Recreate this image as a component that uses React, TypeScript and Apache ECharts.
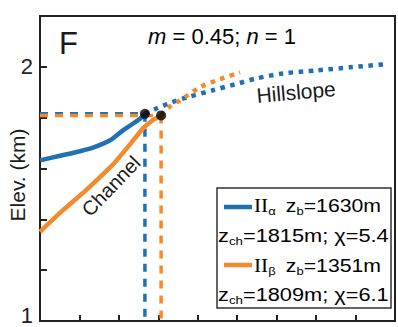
import React, { useEffect, useRef } from "react";
import * as echarts from "echarts";

const BLUE = "#1f70b4";
const ORANGE = "#f38a2b";
const INK = "#1a1a1a";
const FONT = "Liberation Sans";

// Y ticks (km) – only 1 and 2 are labelled
const yLabelled = [1, 2];

// Channel profiles (solid)
const blueChannelX = [0, 0.507, 1.014, 1.395, 1.775, 2.079, 2.333, 2.535, 2.66];
const blueChannelZ = [1.632, 1.65, 1.668, 1.685, 1.711, 1.747, 1.774, 1.796, 1.815];
const orangeChannelX = [0, 0.583, 1.141, 1.521, 1.902, 2.282, 2.612, 2.84, 3.07];
const orangeChannelZ = [1.351, 1.436, 1.511, 1.566, 1.625, 1.695, 1.758, 1.788, 1.809];

// Hillslope profiles (dotted)
const blueHillX = [2.66, 2.967, 3.347, 3.727, 4.386, 4.944, 5.502, 6.161, 7.023, 7.86, 8.748];
const blueHillZ = [1.815, 1.837, 1.861, 1.88, 1.908, 1.931, 1.955, 1.974, 1.986, 1.998, 2.01];
const orangeHillX = [3.07, 3.296, 3.55, 4.057, 4.488, 5.071];
const orangeHillZ = [1.809, 1.845, 1.868, 1.92, 1.947, 1.978];

// Channel heads (knickpoints)
const headX = [2.66, 3.07];
const headZ = [1.815, 1.809];
const yMin = 1;

const zip = (xs: number[], ys: number[]) => xs.map((x, i) => [x, ys[i]]);

export default function App() {
  const ref = useRef<HTMLDivElement>(null);
  useEffect(() => {
    if (!ref.current) return;
    const chart = echarts.init(ref.current, null, { renderer: "svg" });
    const dashed = (color: string, data: number[][]) => ({
      type: "line",
      data,
      symbol: "none",
      silent: true,
      lineStyle: { color, width: 3.5, type: [8, 7], cap: "butt" },
      z: 1,
    });
    const curve = (color: string, data: number[][], dotted: boolean) => ({
      type: "line",
      data,
      symbol: "none",
      smooth: 0.25,
      lineStyle: dotted
        ? { color, width: 4.5, type: [4.5, 5.5], cap: "butt" }
        : { color, width: 4.5, join: "round" },
      z: dotted ? 2 : 3,
    });
    const legendMain = { fontSize: 18, fontFamily: FONT, color: INK, lineHeight: 24 };
    const legendSub = { fontSize: 11, fontFamily: FONT, color: INK, lineHeight: 24, padding: [11, 0, 0, 0] };
    const legendRich = {
      t: legendMain,
      ii: { fontSize: 18, fontFamily: "Liberation Serif", color: INK, lineHeight: 24 },
      s: legendSub,
    };
    const SX = 1.18;
    chart.setOption({
      animation: false,
      grid: {
        left: 40,
        top: 16,
        width: 355,
        height: 305,
        show: true,
        borderColor: "#222",
        borderWidth: 2,
        backgroundColor: "transparent",
      },
      xAxis: {
        type: "value",
        min: 0,
        max: 9,
        interval: 1,
        axisLabel: { show: false },
        axisTick: { show: true, inside: true, length: 6, lineStyle: { color: "#222", width: 2 } },
        axisLine: { show: true, lineStyle: { color: "#222", width: 2 } },
        splitLine: { show: false },
      },
      yAxis: {
        type: "value",
        min: 1,
        max: 2.2,
        interval: 0.2,
        axisTick: { show: true, inside: true, length: 7, lineStyle: { color: "#222", width: 2 } },
        axisLine: { show: true, lineStyle: { color: "#222", width: 2 } },
        splitLine: { show: false },
        axisLabel: {
          margin: 7,
          fontSize: 22,
          fontFamily: FONT,
          color: "#222",
          formatter: (v: number) => {
            const hit = yLabelled.find((t) => Math.abs(v - t) < 1e-6);
            if (hit === undefined) return "";
            return hit === 1 ? "{lo|1}" : String(hit);
          },
          rich: {
            lo: { fontSize: 22, fontFamily: FONT, color: "#222", padding: [0, 0, 12, 0] },
          },
        },
      },
      series: [
        dashed(BLUE, [[0, headZ[0]], [headX[0], headZ[0]]]),
        dashed(ORANGE, [[0, headZ[1]], [headX[1], headZ[1]]]),
        dashed(BLUE, [[headX[0], headZ[0]], [headX[0], yMin]]),
        dashed(ORANGE, [[headX[1], headZ[1]], [headX[1], yMin]]),
        curve(BLUE, zip(blueHillX, blueHillZ), true),
        curve(ORANGE, zip(orangeHillX, orangeHillZ), true),
        curve(BLUE, zip(blueChannelX, blueChannelZ), false),
        curve(ORANGE, zip(orangeChannelX, orangeChannelZ), false),
        {
          type: "scatter",
          data: zip(headX, headZ),
          symbol: "circle",
          symbolSize: 10,
          itemStyle: { color: "#000" },
          z: 5,
        },
      ],
      graphic: [
        {
          type: "text",
          x: 68.5,
          y: 43.5,
          style: { text: "F", fontSize: 31, fontFamily: FONT, fill: INK, align: "center", verticalAlign: "middle" },
        },
        {
          type: "text",
          x: 222,
          y: 36,
          style: {
            text: "{i|m}{r| = 0.45; }{i|n}{r| = 1}",
            align: "center",
            verticalAlign: "middle",
            rich: {
              i: { fontSize: 22, fontFamily: FONT, fontStyle: "italic", color: INK },
              r: { fontSize: 22, fontFamily: FONT, color: INK },
            },
          },
        },
        {
          type: "text",
          x: 17,
          y: 175,
          rotation: Math.PI / 2,
          style: { text: "Elev. (km)", fontSize: 21, fontFamily: FONT, fill: INK, align: "center", verticalAlign: "middle" },
        },
        {
          type: "text",
          x: 111,
          y: 186,
          rotation: (46 * Math.PI) / 180,
          style: { text: "Channel", fontSize: 20, fontFamily: FONT, fill: INK, align: "center", verticalAlign: "middle" },
          z: 10,
        },
        {
          type: "text",
          x: 296,
          y: 92,
          rotation: (5 * Math.PI) / 180,
          style: { text: "Hillslope", fontSize: 21, fontFamily: FONT, fill: INK, align: "center", verticalAlign: "middle" },
          z: 10,
        },
        {
          type: "rect",
          shape: { x: 217, y: 188, width: 174, height: 120 },
          style: { fill: "#fff", stroke: "#333", lineWidth: 1.5 },
          z: 20,
        },
        {
          type: "line",
          shape: { x1: 224, y1: 207, x2: 252, y2: 207 },
          style: { stroke: BLUE, lineWidth: 4.5 },
          z: 21,
        },
        {
          type: "line",
          shape: { x1: 224, y1: 265, x2: 252, y2: 265 },
          style: { stroke: ORANGE, lineWidth: 4.5 },
          z: 21,
        },
        {
          type: "text",
          x: 254,
          y: 206,
          scaleX: SX,
          style: { text: "{ii|II}{s|α}", rich: legendRich, align: "left", verticalAlign: "middle" },
          z: 21,
        },
        {
          type: "text",
          x: 381,
          y: 206,
          scaleX: SX,
          style: { text: "{t|z}{s|b}{t|=1630m}", rich: legendRich, align: "right", verticalAlign: "middle" },
          z: 21,
        },
        {
          type: "text",
          x: 218,
          y: 236,
          scaleX: 1.21,
          style: { text: "{t|z}{s|ch}{t|=1815m; χ=5.4}", rich: legendRich, align: "left", verticalAlign: "middle" },
          z: 21,
        },
        {
          type: "text",
          x: 254,
          y: 265.5,
          scaleX: SX,
          style: { text: "{ii|II}{s|β}", rich: legendRich, align: "left", verticalAlign: "middle" },
          z: 21,
        },
        {
          type: "text",
          x: 381,
          y: 265.5,
          scaleX: SX,
          style: { text: "{t|z}{s|b}{t|=1351m}", rich: legendRich, align: "right", verticalAlign: "middle" },
          z: 21,
        },
        {
          type: "text",
          x: 218,
          y: 295,
          scaleX: 1.21,
          style: { text: "{t|z}{s|ch}{t|=1809m; χ=6.1}", rich: legendRich, align: "left", verticalAlign: "middle" },
          z: 21,
        },
      ],
    });
    return () => chart.dispose();
  }, []);
  return (
    <div
      ref={ref}
      style={{ position: "absolute", left: 0, top: 0, width: 398, height: 327, background: "#fff" }}
    />
  );
}
